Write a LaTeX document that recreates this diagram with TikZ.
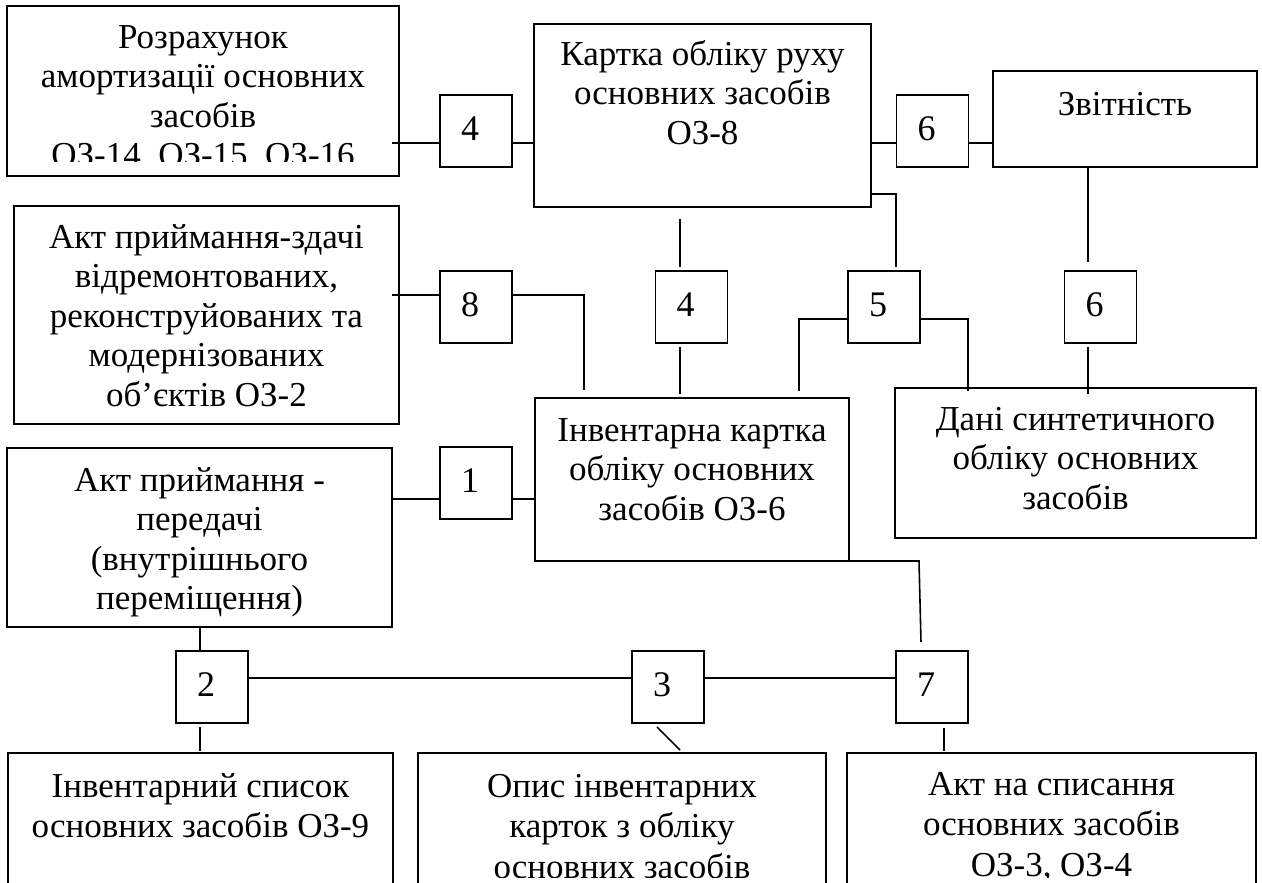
\documentclass[tikz,border=0pt]{standalone}
\usepackage{fontspec}
\setmainfont{Liberation Serif}
\usetikzlibrary{calc}
\newcommand\myst{\rule{0pt}{26pt}}
\begin{document}
\begin{tikzpicture}[x=1pt,y=-1pt,
  box/.style={draw, line width=1.6pt, inner sep=0pt, outer sep=0pt},
  sbox/.style={box, minimum width=72pt, minimum height=72pt},
  tx/.style={anchor=north, inner sep=0pt, align=center, font=\fontsize{35}{39.5}\selectfont},
  txb/.style={tx, font=\fontsize{35}{40.5}\selectfont},
  num/.style={anchor=base, inner sep=0pt, font=\fontsize{36}{40}\selectfont},
  ln/.style={line width=1.6pt}]
\useasboundingbox[fill=white] (0,0) rectangle (1262,883);

% big boxes
\node[box, minimum width=392pt, minimum height=170pt] (A) at (203,91) {};
\node[box, minimum width=337pt, minimum height=183pt] (K) at (702.5,115.5) {};
\node[box, minimum width=264pt, minimum height=96pt] (Z) at (1125,119) {};
\node[box, minimum width=385pt, minimum height=218pt] (B) at (206.5,315) {};
\node[box, minimum width=314pt, minimum height=163pt] (I) at (692,479.5) {};
\node[box, minimum width=361pt, minimum height=150pt] (D) at (1075.5,463) {};
\node[box, minimum width=385pt, minimum height=179pt] (C) at (199.5,537.5) {};
\node[box, minimum width=385pt, minimum height=170pt] (E) at (200.5,838) {};
\node[box, minimum width=408pt, minimum height=170pt] (F) at (622,838) {};
\node[box, minimum width=409pt, minimum height=170pt] (G) at (1051.5,838) {};

% small boxes
\node[sbox] (s4a) at (476,131) {};
\node[sbox] (s6a) at (932.5,131) {};
\node[sbox] (s8) at (476,307) {};
\node[sbox] (s4b) at (691.5,307) {};
\node[sbox] (s5) at (884,307) {};
\node[sbox] (s6b) at (1100.5,307) {};
\node[sbox] (s1) at (476,483) {};
\node[sbox] (s2) at (212,687) {};
\node[sbox] (s3) at (668,687) {};
\node[sbox] (s7) at (932,687) {};

% digits
\node[num] (n4a) at (470,140) {4};
\node[num] (n6a) at (926.5,140) {6};
\node[num] (n8) at (470,316) {8};
\node[num] (n4b) at (685.5,316) {4};
\node[num] (n5) at (878,316) {5};
\node[num] (n6b) at (1094.5,316) {6};
\node[num] (n1) at (470,492) {1};
\node[num] (n2) at (206,696) {2};
\node[num] (n3) at (662,696) {3};
\node[num] (n7) at (926,696) {7};

% texts
\begin{scope}
\clip (7,6) rectangle (399,161);
\node[tx] (tA) at ($(A.north)+(0,16)$) {\myst Розрахунок\\амортизації основних\\засобів\\ОЗ-14, ОЗ-15, ОЗ-16};
\end{scope}
\node[tx] (tK) at ($(K.north)+(0,15)$) {\myst Картка обліку руху\\основних засобів\\ОЗ-8};
\node[tx] (tZ) at ($(Z.north)+(0,18)$) {\myst Звітність};
\node[tx] (tB) at ($(B.north)+(0,16)$) {\myst Акт приймання-здачі\\відремонтованих,\\реконструйованих та\\модернізованих\\об’єктів ОЗ-2};
\node[tx] (tI) at ($(I.north)+(0,17)$) {\myst Інвентарна картка\\обліку основних\\засобів ОЗ-6};
\node[tx] (tD) at ($(D.north)+(0,16)$) {\myst Дані синтетичного\\обліку основних\\засобів};
\node[tx] (tC) at ($(C.north)+(0,17)$) {\myst Акт приймання -\\передачі\\(внутрішнього\\переміщення)};
\begin{scope}
\clip (0,740) rectangle (1262,877);
\node[txb] (tE) at ($(E.north)+(0,18)$) {\myst Інвентарний список\\основних засобів ОЗ-9};
\node[txb] (tF) at ($(F.north)+(0,18)$) {\myst Опис інвентарних\\карток з обліку\\основних засобів};
\node[txb] (tG) at ($(G.north)+(0,16)$) {\myst Акт на списання\\основних засобів\\ОЗ-3, ОЗ-4};
\end{scope}

% connectors
\draw[ln] ($(A.east)+(-7,52)$) -- ($(s4a.west)+(0,12)$);
\draw[ln] ($(s4a.east)+(0,12)$) -- ($(K.west |- s4a.east)+(0,12)$);
\draw[ln] ($(K.east |- s6a.west)+(0,12)$) -- ($(s6a.west)+(0,12)$);
\draw[ln] ($(s6a.east)+(0,12)$) -- ($(Z.west |- s6a.east)+(0,12)$);
\draw[ln] ($(K.east)+(0,78.5)$) -| ($(s5.north)+(12,-4)$);
\draw[ln] ($(s5.west)+(0,12)$) -| ($(I.north)+(107,-7)$);
\draw[ln] ($(s5.east)+(0,12)$) -| ($(D.north)+(-107.5,3)$);
\draw[ln] ($(Z.south)+(-37,0)$) -- ($(s6b.north)+(-12.5,-9)$);
\draw[ln] ($(s6b.south)+(-12.5,4)$) -- ($(s6b.south |- D.north)+(-12.5,6)$);
\draw[ln] ($(s4b.north |- K.south)+(-11.5,12)$) -- ($(s4b.north)+(-11.5,-4)$);
\draw[ln] ($(s4b.south)+(-11.5,4)$) -- ($(s4b.south |- I.north)+(-11.5,-4)$);
\draw[ln] ($(B.east |- s8.west)+(-7,-12)$) -- ($(s8.west)+(0,-12)$);
\draw[ln] ($(s8.east)+(0,-12)$) -| ($(I.north)+(-108,-8)$);
\draw[ln] ($(C.east |- s1.west)+(0,16)$) -- ($(s1.west)+(0,16)$);
\draw[ln] ($(s1.east)+(0,16)$) -- ($(I.west |- s1.east)+(0,16)$);
\draw[ln] ($(s2.north |- C.south)+(-12,0)$) -- ($(s2.north)+(-12,0)$);
\draw[ln] ($(s2.south)+(-12,4)$) -- ($(s2.south |- E.north)+(-12,-2)$);
\draw[ln] ($(s2.east)+(0,-9)$) -- ($(s3.west)+(0,-9)$);
\draw[ln] ($(s3.east)+(0,-9)$) -- ($(s7.west)+(0,-9)$);
\draw[ln] ($(s3.south)+(-11,4)$) -- ($(s3.south |- F.north)+(12,-3)$);
\draw[ln] (I.south east) -- ($(I.south east)+(70,0)$) -- ($(s7.north)+(-11,-9)$);
\draw[ln] ($(s7.south)+(12,5)$) -- ($(s7.south |- G.north)+(12,-2)$);
\end{tikzpicture}
\end{document}
